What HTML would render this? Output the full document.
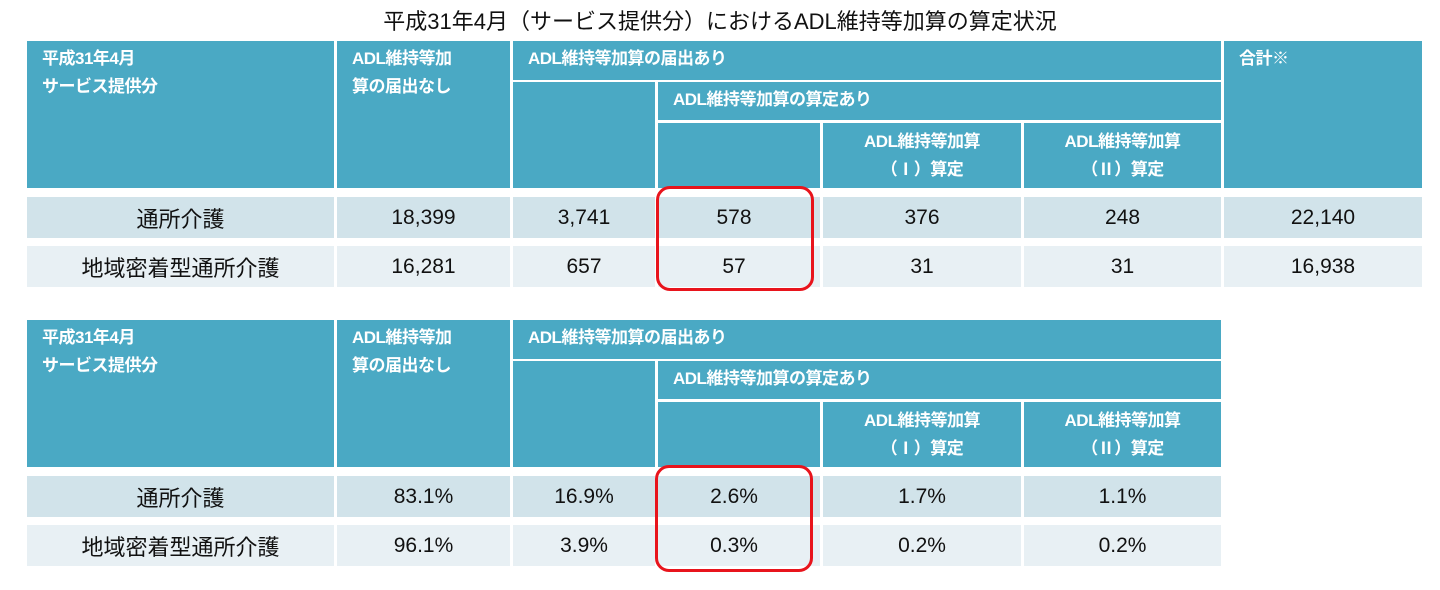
<!DOCTYPE html>
<html><head><meta charset="utf-8"><style>
body{margin:0;width:1440px;height:590px;background:#fff;position:relative;overflow:hidden;font-family:"Liberation Sans","Noto Sans CJK JP",sans-serif}
.c{position:absolute;box-sizing:border-box}
.h{background:#4aa9c4;color:#fff;font-weight:bold;font-size:17px;line-height:28px;padding:4px 0 0 15px;letter-spacing:-0.5px}
.hc{text-align:center;padding:5px 0 0 0;line-height:28px}
.d{font-size:21px;color:#111;text-align:center;display:flex;align-items:center;justify-content:center}
.r1{background:#d1e3ea}.r2{background:#e8f0f4}
.red{position:absolute;border:3px solid #e8141c;border-radius:14px;box-sizing:border-box}
.t{position:absolute;left:0;width:1440px;top:4px;text-align:center;font-size:22px;color:#111}
</style></head><body>
<div class="t">平成31年4月（サービス提供分）におけるADL維持等加算の算定状況</div>

<!-- Table 1 -->
<div class="c h" style="left:27px;top:41px;width:307px;height:147px">平成31年4月<br>サービス提供分</div>
<div class="c h" style="left:337px;top:41px;width:173px;height:147px">ADL維持等加<br>算の届出なし</div>
<div class="c h" style="left:513px;top:41px;width:708px;height:39px">ADL維持等加算の届出あり</div>
<div class="c h" style="left:513px;top:82px;width:142px;height:106px"></div>
<div class="c h" style="left:658px;top:82px;width:563px;height:38px">ADL維持等加算の算定あり</div>
<div class="c h" style="left:658px;top:123px;width:162px;height:65px"></div>
<div class="c h hc" style="left:823px;top:123px;width:198px;height:65px">ADL維持等加算<br>（Ⅰ）算定</div>
<div class="c h hc" style="left:1024px;top:123px;width:197px;height:65px">ADL維持等加算<br>（Ⅱ）算定</div>
<div class="c h" style="left:1224px;top:41px;width:198px;height:147px">合計※</div>

<div class="c d r1" style="left:27px;top:197px;width:307px;height:41px;font-size:22px">通所介護</div>
<div class="c d r1" style="left:337px;top:197px;width:173px;height:41px">18,399</div>
<div class="c d r1" style="left:513px;top:197px;width:142px;height:41px">3,741</div>
<div class="c d r1" style="left:658px;top:197px;width:162px;height:41px;padding-right:10px">578</div>
<div class="c d r1" style="left:823px;top:197px;width:198px;height:41px">376</div>
<div class="c d r1" style="left:1024px;top:197px;width:197px;height:41px">248</div>
<div class="c d r1" style="left:1224px;top:197px;width:198px;height:41px">22,140</div>

<div class="c d r2" style="left:27px;top:246px;width:307px;height:41px;font-size:22px">地域密着型通所介護</div>
<div class="c d r2" style="left:337px;top:246px;width:173px;height:41px">16,281</div>
<div class="c d r2" style="left:513px;top:246px;width:142px;height:41px">657</div>
<div class="c d r2" style="left:658px;top:246px;width:162px;height:41px;padding-right:10px">57</div>
<div class="c d r2" style="left:823px;top:246px;width:198px;height:41px">31</div>
<div class="c d r2" style="left:1024px;top:246px;width:197px;height:41px">31</div>
<div class="c d r2" style="left:1224px;top:246px;width:198px;height:41px">16,938</div>
<div class="red" style="left:656px;top:186px;width:158px;height:105px"></div>

<!-- Table 2 -->
<div class="c h" style="left:27px;top:320px;width:307px;height:147px">平成31年4月<br>サービス提供分</div>
<div class="c h" style="left:337px;top:320px;width:173px;height:147px">ADL維持等加<br>算の届出なし</div>
<div class="c h" style="left:513px;top:320px;width:708px;height:39px">ADL維持等加算の届出あり</div>
<div class="c h" style="left:513px;top:361px;width:142px;height:106px"></div>
<div class="c h" style="left:658px;top:361px;width:563px;height:38px">ADL維持等加算の算定あり</div>
<div class="c h" style="left:658px;top:402px;width:162px;height:65px"></div>
<div class="c h hc" style="left:823px;top:402px;width:198px;height:65px">ADL維持等加算<br>（Ⅰ）算定</div>
<div class="c h hc" style="left:1024px;top:402px;width:197px;height:65px">ADL維持等加算<br>（Ⅱ）算定</div>

<div class="c d r1" style="left:27px;top:476px;width:307px;height:41px;font-size:22px">通所介護</div>
<div class="c d r1" style="left:337px;top:476px;width:173px;height:41px">83.1%</div>
<div class="c d r1" style="left:513px;top:476px;width:142px;height:41px">16.9%</div>
<div class="c d r1" style="left:658px;top:476px;width:162px;height:41px;padding-right:10px">2.6%</div>
<div class="c d r1" style="left:823px;top:476px;width:198px;height:41px">1.7%</div>
<div class="c d r1" style="left:1024px;top:476px;width:197px;height:41px">1.1%</div>

<div class="c d r2" style="left:27px;top:525px;width:307px;height:41px;font-size:22px">地域密着型通所介護</div>
<div class="c d r2" style="left:337px;top:525px;width:173px;height:41px">96.1%</div>
<div class="c d r2" style="left:513px;top:525px;width:142px;height:41px">3.9%</div>
<div class="c d r2" style="left:658px;top:525px;width:162px;height:41px;padding-right:10px">0.3%</div>
<div class="c d r2" style="left:823px;top:525px;width:198px;height:41px">0.2%</div>
<div class="c d r2" style="left:1024px;top:525px;width:197px;height:41px">0.2%</div>
<div class="red" style="left:655px;top:465px;width:158px;height:107px"></div>
</body></html>
